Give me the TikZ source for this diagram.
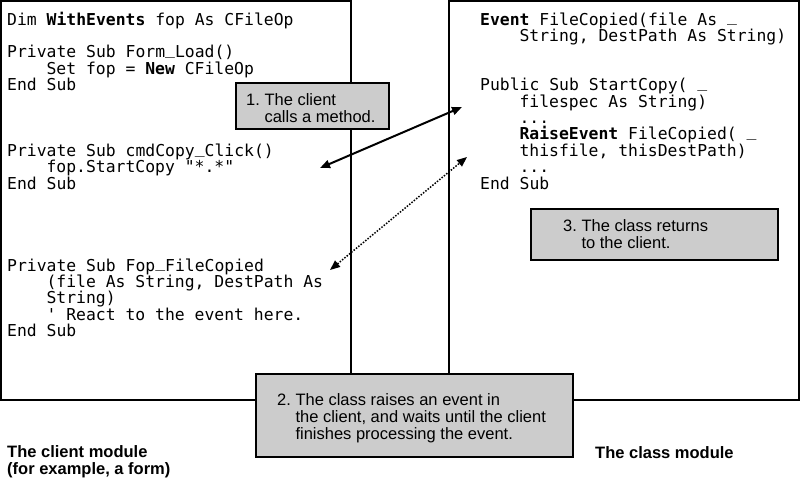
\documentclass[tikz,border=0pt]{standalone}
\usepackage{fontspec}
\setmainfont{Liberation Sans}
\newfontfamily\codefont{DejaVu Sans Mono}
\usetikzlibrary{arrows.meta}
\definecolor{notegray}{HTML}{CCCCCC}
\newcommand\usc{\raisebox{3.2pt}{\_}}
\begin{document}
\begin{tikzpicture}[x=1pt,y=-1pt,
 panel/.style={draw=black, line width=2pt, minimum width=350pt, minimum height=399pt, anchor=north west, inner sep=0pt, outer sep=0pt},
 notebox/.style={draw=black, line width=2pt, fill=notegray, anchor=north west, inner sep=0pt, outer sep=0pt},
 notetext/.style={anchor=base west, inner sep=0pt, font=\fontsize{16.5}{17}\selectfont},
 codeline/.style={anchor=base west, inner sep=0pt, font=\codefont\fontsize{16.4}{16.4}\selectfont},
 caption/.style={anchor=base west, inner sep=0pt, font=\bfseries\fontsize{16.5}{17}\selectfont},
 callarrow/.style={line width=2pt, {Triangle[length=10pt,width=8pt]}-{Triangle[length=10pt,width=8pt]}},
 eventarrow/.style={line width=1.5pt, dash pattern=on 1.5pt off 1.5pt, {Triangle[length=10pt,width=8pt]}-{Triangle[length=10pt,width=8pt]}},
]
\useasboundingbox (0,0) rectangle (800,485);

% panels
\node[panel] (client) at (1,1) {};
\node[panel] (class) at (449,1) {};

% client code
\node[codeline] (c0) at (7,25) {Dim \textbf{WithEvents} fop As CFileOp};
\node[codeline] (c2) at (7,57.8) {Private Sub Form\usc Load()};
\node[codeline] (c3) at (46.4,74.2) {Set fop = \textbf{New} CFileOp};
\node[codeline] (c4) at (7,90.6) {End Sub};
\node[codeline] (c8) at (7,156.2) {Private Sub cmdCopy\usc Click()};
\node[codeline] (c9) at (46.4,172.6) {fop.StartCopy \textquotedbl*.*\textquotedbl};
\node[codeline] (c10) at (7,189) {End Sub};
\node[codeline] (c15) at (7,271) {Private Sub Fop\usc FileCopied};
\node[codeline] (c16) at (46.4,287.4) {(file As String, DestPath As};
\node[codeline] (c17) at (46.4,303.8) {String)};
\node[codeline] (c18) at (46.4,320.2) {\textquotesingle{} React to the event here.};
\node[codeline] (c19) at (7,336.6) {End Sub};

% class code
\node[codeline] (k0) at (480,25) {\textbf{Event} FileCopied(file As \usc};
\node[codeline] (k1) at (519.4,41.4) {String, DestPath As String)};
\node[codeline] (k4) at (480,90.6) {Public Sub StartCopy( \usc};
\node[codeline] (k5) at (519.4,107) {filespec As String)};
\node[codeline] (k6) at (519.4,123.4) {...};
\node[codeline] (k7) at (519.4,139.8) {\textbf{RaiseEvent} FileCopied( \usc};
\node[codeline] (k8) at (519.4,156.2) {thisfile, thisDestPath)};
\node[codeline] (k9) at (519.4,172.6) {...};
\node[codeline] (k10) at (480,189) {End Sub};

% note boxes
\node[notebox, minimum width=153pt, minimum height=46pt] (b1) at (236,83) {};
\node[notetext] (b1a) at (246,105) {1.\ The client};
\node[notetext] (b1b) at (246,122) {\phantom{1.\ }calls a method.};

\node[notebox, minimum width=247pt, minimum height=51pt] (b3) at (531,209) {};
\node[notetext] (b3a) at (563,231) {3.\ The class returns};
\node[notetext] (b3b) at (563,248) {\phantom{3.\ }to the client.};

\node[notebox, minimum width=317pt, minimum height=83pt] (b2) at (256,374) {};
\node[notetext] (b2a) at (277,405) {2.\ The class raises an event in};
\node[notetext] (b2b) at (277,422) {\phantom{2.\ }the client, and waits until the client};
\node[notetext] (b2c) at (277,439) {\phantom{2.\ }finishes processing the event.};

% arrows
\coordinate (callL) at (320,168);
\coordinate (callR) at (462,107);
\coordinate (evL) at (330,270);
\coordinate (evR) at (467,157);
\draw[callarrow] (callL) -- (callR);
\draw[eventarrow] (evL) -- (evR);

% captions
\node[caption] (cap1) at (7,457) {The client module};
\node[caption] (cap2) at (7,474) {(for example, a form)};
\node[caption] (cap3) at (595,458) {The class module};
\end{tikzpicture}
\end{document}
